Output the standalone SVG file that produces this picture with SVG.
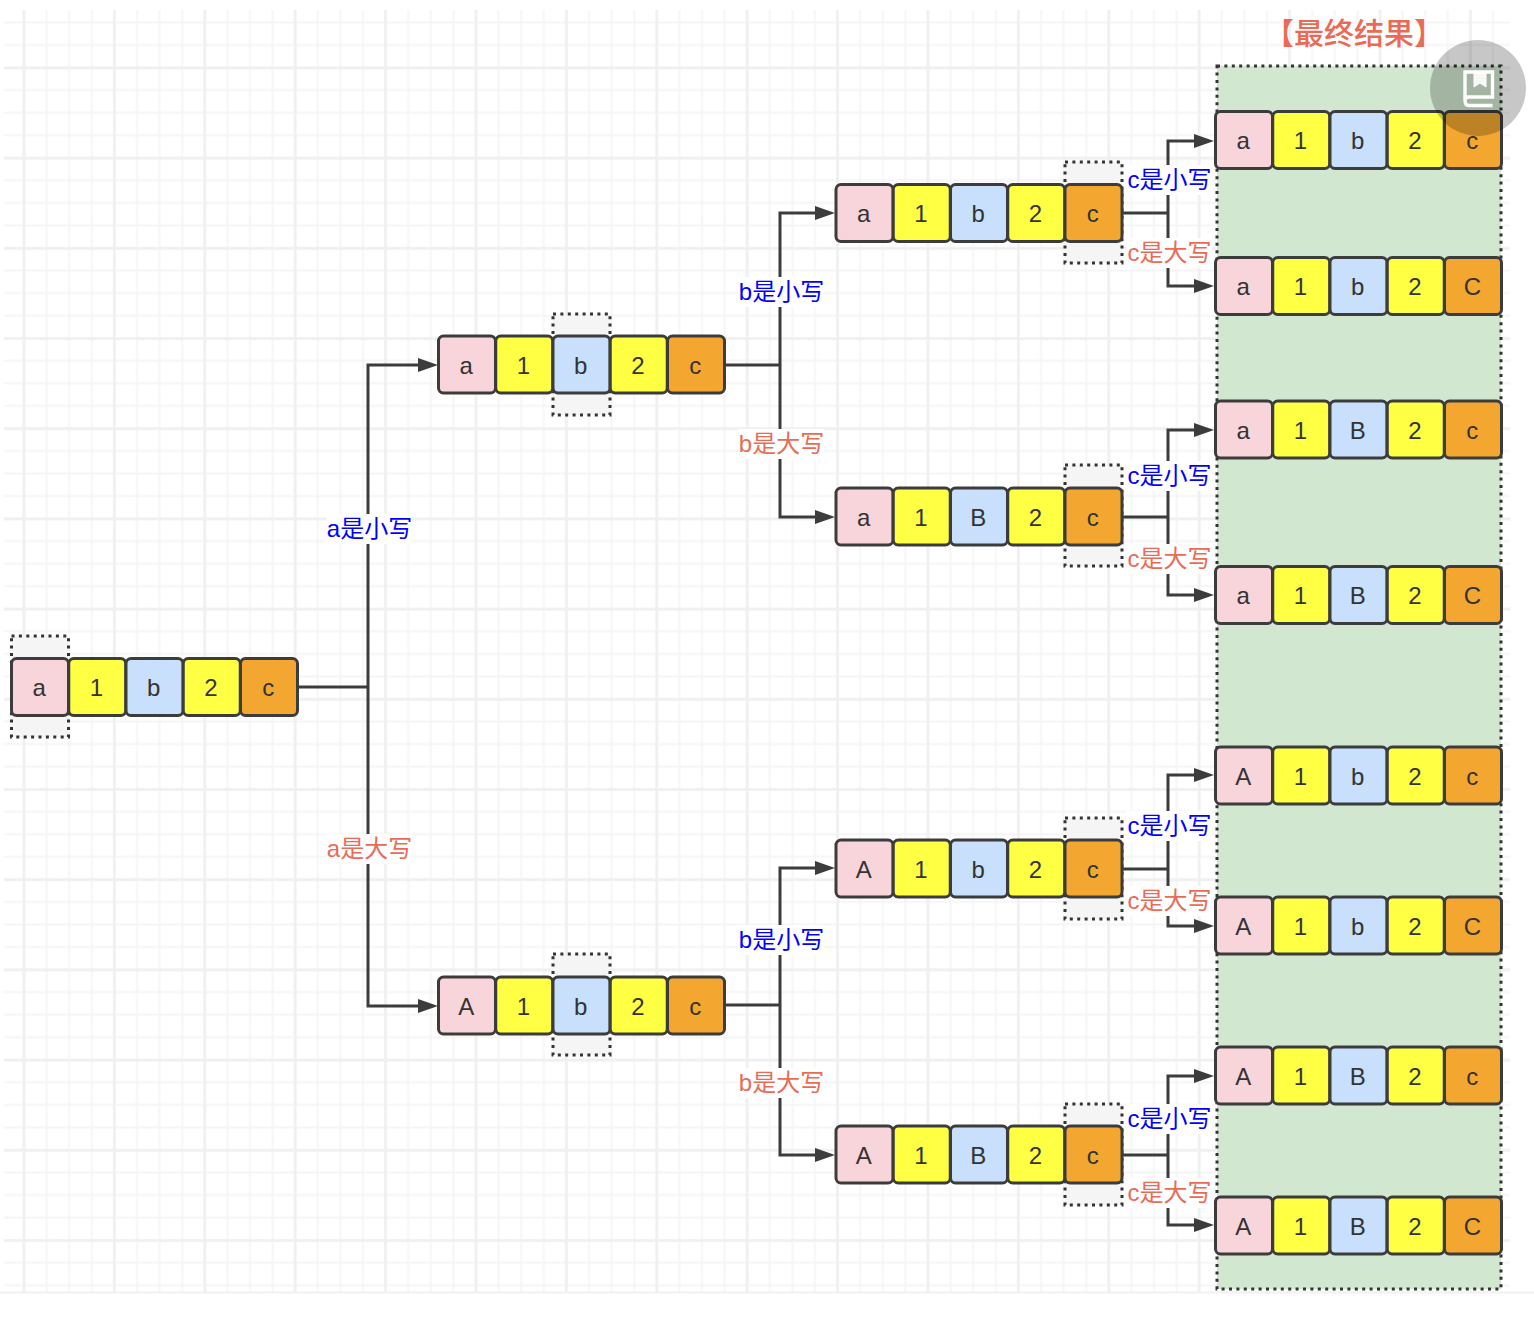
<svg xmlns="http://www.w3.org/2000/svg" width="1534" height="1324" viewBox="0 0 1534 1324">
<style>
.bg{fill:#fff}
.gm{fill:none;stroke:#f5f5f5;stroke-width:2}
.gM{fill:none;stroke:#f0f0f0;stroke-width:2.6}
.dot{fill:#f5f5f5;stroke:#333;stroke-width:3;stroke-dasharray:3 4.4}
.res{fill:#d2e7d0;stroke:#333;stroke-width:3;stroke-dasharray:3 4.4}
.cell{width:57px;height:57px;rx:5px;ry:5px;stroke:#3c3c3c;stroke-width:3}
.p{fill:#f8d5da}.y{fill:#ffff44}.u{fill:#c8e0fb}.o{fill:#f3a730}
.t{font:24px "Liberation Sans","Noto Sans CJK SC",sans-serif;fill:#333;text-anchor:middle}
.line{fill:none;stroke:#3c3c3c;stroke-width:3}
.lb{fill:#fff}
.lab{font:24px "Liberation Sans","Noto Sans CJK SC",sans-serif;text-anchor:middle}
.bl{fill:#0000ff}.rd{fill:#ea6b55}
</style>
<defs>
<marker id="arr" markerUnits="userSpaceOnUse" markerWidth="22" markerHeight="16" refX="10" refY="7" orient="auto"><path d="M0 0L20 7L0 14Z" fill="#3c3c3c"/></marker>
<pattern id="gmin" patternUnits="userSpaceOnUse" x="12.7" y="11.2" width="22.6" height="22.55"><path class="gm" d="M11.3 0V22.55M0 11.3H22.6"/></pattern>
<pattern id="gmaj" patternUnits="userSpaceOnUse" x="-21.2" y="22.9" width="90.4" height="90.2"><path class="gM" d="M45.2 0V90.2M0 45.1H90.4"/></pattern>
</defs>
<rect class="bg" width="1534" height="1324"/>
<g id="grid">
<rect x="4" y="10" width="1506" height="1282" fill="url(#gmin)"/>
<rect x="4" y="10" width="1506" height="1282" fill="url(#gmaj)"/>
<path d="M0 1292.6H1534" stroke="#f1f1f1" stroke-width="2"/>
</g>
<g id="selections">
<rect id="result-box" class="res" x="1217" y="66" width="284" height="1223"/>
<rect class="dot" x="11.5" y="636" width="57" height="101"/>
<rect class="dot" x="553" y="314" width="57" height="101"/>
<rect class="dot" x="553" y="954" width="57" height="101"/>
<rect class="dot" x="1065" y="162" width="57" height="101"/>
<rect class="dot" x="1065" y="465" width="57" height="101"/>
<rect class="dot" x="1065" y="818" width="57" height="101"/>
<rect class="dot" x="1065" y="1104" width="57" height="101"/>
</g>
<g id="connectors">
<path class="line" d="M298 687H368"/>
<path class="line" marker-end="url(#arr)" d="M368 687V365H428"/>
<path class="line" marker-end="url(#arr)" d="M368 687V1006H428"/>
<path class="line" d="M725 365H780"/>
<path class="line" marker-end="url(#arr)" d="M780 365V213H825"/>
<path class="line" marker-end="url(#arr)" d="M780 365V517H825"/>
<path class="line" d="M725 1005H780"/>
<path class="line" marker-end="url(#arr)" d="M780 1005V868H825"/>
<path class="line" marker-end="url(#arr)" d="M780 1005V1155H825"/>
<path class="line" d="M1123 213H1168"/>
<path class="line" marker-end="url(#arr)" d="M1168 213V141H1204"/>
<path class="line" marker-end="url(#arr)" d="M1168 213V286H1204"/>
<path class="line" d="M1123 517H1168"/>
<path class="line" marker-end="url(#arr)" d="M1168 517V430H1204"/>
<path class="line" marker-end="url(#arr)" d="M1168 517V595H1204"/>
<path class="line" d="M1123 869H1168"/>
<path class="line" marker-end="url(#arr)" d="M1168 869V775H1204"/>
<path class="line" marker-end="url(#arr)" d="M1168 869V926H1204"/>
<path class="line" d="M1123 1155H1168"/>
<path class="line" marker-end="url(#arr)" d="M1168 1155V1076H1204"/>
<path class="line" marker-end="url(#arr)" d="M1168 1155V1225H1204"/>
</g>
<g id="labels">
<rect class="lb" x="326" y="514" width="86" height="30"/><text class="lab bl" x="369.5" y="537">a是小写</text>
<rect class="lb" x="326" y="834" width="86" height="30"/><text class="lab rd" x="369.5" y="857">a是大写</text>
<rect class="lb" x="738" y="277" width="86" height="30"/><text class="lab bl" x="781.5" y="300">b是小写</text>
<rect class="lb" x="738" y="429" width="86" height="30"/><text class="lab rd" x="781.5" y="452">b是大写</text>
<rect class="lb" x="738" y="925" width="86" height="30"/><text class="lab bl" x="781.5" y="948">b是小写</text>
<rect class="lb" x="738" y="1068" width="86" height="30"/><text class="lab rd" x="781.5" y="1091">b是大写</text>
<rect class="lb" x="1126" y="165" width="86" height="30"/><text class="lab bl" x="1169.5" y="188">c是小写</text>
<rect class="lb" x="1126" y="238" width="86" height="30"/><text class="lab rd" x="1169.5" y="261">c是大写</text>
<rect class="lb" x="1126" y="461" width="86" height="30"/><text class="lab bl" x="1169.5" y="484">c是小写</text>
<rect class="lb" x="1126" y="544" width="86" height="30"/><text class="lab rd" x="1169.5" y="567">c是大写</text>
<rect class="lb" x="1126" y="811" width="86" height="30"/><text class="lab bl" x="1169.5" y="834">c是小写</text>
<rect class="lb" x="1126" y="886" width="86" height="30"/><text class="lab rd" x="1169.5" y="909">c是大写</text>
<rect class="lb" x="1126" y="1104" width="86" height="30"/><text class="lab bl" x="1169.5" y="1127">c是小写</text>
<rect class="lb" x="1126" y="1178" width="86" height="30"/><text class="lab rd" x="1169.5" y="1201">c是大写</text>
<text id="title" x="1354" y="44" style="font:500 30px 'Noto Sans CJK SC',sans-serif;fill:#ea6b55;text-anchor:middle">【最终结果】</text>
</g>
<g id="n-root" transform="translate(11.5,658.5)">
<rect class="cell p" x="0"/><rect class="cell y" x="57.25"/><rect class="cell u" x="114.5"/><rect class="cell y" x="171.75"/><rect class="cell o" x="229"/>
<text class="t" x="27.8" y="37.5">a</text><text class="t" x="85" y="37.5">1</text><text class="t" x="142.3" y="37.5">b</text><text class="t" x="199.5" y="37.5">2</text><text class="t" x="256.8" y="37.5">c</text>
</g>
<g id="n-a" transform="translate(438.5,336)">
<rect class="cell p" x="0"/><rect class="cell y" x="57.25"/><rect class="cell u" x="114.5"/><rect class="cell y" x="171.75"/><rect class="cell o" x="229"/>
<text class="t" x="27.8" y="37.5">a</text><text class="t" x="85" y="37.5">1</text><text class="t" x="142.3" y="37.5">b</text><text class="t" x="199.5" y="37.5">2</text><text class="t" x="256.8" y="37.5">c</text>
</g>
<g id="n-A" transform="translate(438.5,977)">
<rect class="cell p" x="0"/><rect class="cell y" x="57.25"/><rect class="cell u" x="114.5"/><rect class="cell y" x="171.75"/><rect class="cell o" x="229"/>
<text class="t" x="27.8" y="37.5">A</text><text class="t" x="85" y="37.5">1</text><text class="t" x="142.3" y="37.5">b</text><text class="t" x="199.5" y="37.5">2</text><text class="t" x="256.8" y="37.5">c</text>
</g>
<g id="n-ab" transform="translate(836,184.5)">
<rect class="cell p" x="0"/><rect class="cell y" x="57.25"/><rect class="cell u" x="114.5"/><rect class="cell y" x="171.75"/><rect class="cell o" x="229"/>
<text class="t" x="27.8" y="37.5">a</text><text class="t" x="85" y="37.5">1</text><text class="t" x="142.3" y="37.5">b</text><text class="t" x="199.5" y="37.5">2</text><text class="t" x="256.8" y="37.5">c</text>
</g>
<g id="n-aB" transform="translate(836,488)">
<rect class="cell p" x="0"/><rect class="cell y" x="57.25"/><rect class="cell u" x="114.5"/><rect class="cell y" x="171.75"/><rect class="cell o" x="229"/>
<text class="t" x="27.8" y="37.5">a</text><text class="t" x="85" y="37.5">1</text><text class="t" x="142.3" y="37.5">B</text><text class="t" x="199.5" y="37.5">2</text><text class="t" x="256.8" y="37.5">c</text>
</g>
<g id="n-Ab" transform="translate(836,840)">
<rect class="cell p" x="0"/><rect class="cell y" x="57.25"/><rect class="cell u" x="114.5"/><rect class="cell y" x="171.75"/><rect class="cell o" x="229"/>
<text class="t" x="27.8" y="37.5">A</text><text class="t" x="85" y="37.5">1</text><text class="t" x="142.3" y="37.5">b</text><text class="t" x="199.5" y="37.5">2</text><text class="t" x="256.8" y="37.5">c</text>
</g>
<g id="n-AB" transform="translate(836,1126)">
<rect class="cell p" x="0"/><rect class="cell y" x="57.25"/><rect class="cell u" x="114.5"/><rect class="cell y" x="171.75"/><rect class="cell o" x="229"/>
<text class="t" x="27.8" y="37.5">A</text><text class="t" x="85" y="37.5">1</text><text class="t" x="142.3" y="37.5">B</text><text class="t" x="199.5" y="37.5">2</text><text class="t" x="256.8" y="37.5">c</text>
</g>
<g id="r-1" transform="translate(1215.5,111.5)">
<rect class="cell p" x="0"/><rect class="cell y" x="57.25"/><rect class="cell u" x="114.5"/><rect class="cell y" x="171.75"/><rect class="cell o" x="229"/>
<text class="t" x="27.8" y="37.5">a</text><text class="t" x="85" y="37.5">1</text><text class="t" x="142.3" y="37.5">b</text><text class="t" x="199.5" y="37.5">2</text><text class="t" x="256.8" y="37.5">c</text>
</g>
<g id="r-2" transform="translate(1215.5,257.5)">
<rect class="cell p" x="0"/><rect class="cell y" x="57.25"/><rect class="cell u" x="114.5"/><rect class="cell y" x="171.75"/><rect class="cell o" x="229"/>
<text class="t" x="27.8" y="37.5">a</text><text class="t" x="85" y="37.5">1</text><text class="t" x="142.3" y="37.5">b</text><text class="t" x="199.5" y="37.5">2</text><text class="t" x="256.8" y="37.5">C</text>
</g>
<g id="r-3" transform="translate(1215.5,401)">
<rect class="cell p" x="0"/><rect class="cell y" x="57.25"/><rect class="cell u" x="114.5"/><rect class="cell y" x="171.75"/><rect class="cell o" x="229"/>
<text class="t" x="27.8" y="37.5">a</text><text class="t" x="85" y="37.5">1</text><text class="t" x="142.3" y="37.5">B</text><text class="t" x="199.5" y="37.5">2</text><text class="t" x="256.8" y="37.5">c</text>
</g>
<g id="r-4" transform="translate(1215.5,566.5)">
<rect class="cell p" x="0"/><rect class="cell y" x="57.25"/><rect class="cell u" x="114.5"/><rect class="cell y" x="171.75"/><rect class="cell o" x="229"/>
<text class="t" x="27.8" y="37.5">a</text><text class="t" x="85" y="37.5">1</text><text class="t" x="142.3" y="37.5">B</text><text class="t" x="199.5" y="37.5">2</text><text class="t" x="256.8" y="37.5">C</text>
</g>
<g id="r-5" transform="translate(1215.5,747)">
<rect class="cell p" x="0"/><rect class="cell y" x="57.25"/><rect class="cell u" x="114.5"/><rect class="cell y" x="171.75"/><rect class="cell o" x="229"/>
<text class="t" x="27.8" y="37.5">A</text><text class="t" x="85" y="37.5">1</text><text class="t" x="142.3" y="37.5">b</text><text class="t" x="199.5" y="37.5">2</text><text class="t" x="256.8" y="37.5">c</text>
</g>
<g id="r-6" transform="translate(1215.5,897)">
<rect class="cell p" x="0"/><rect class="cell y" x="57.25"/><rect class="cell u" x="114.5"/><rect class="cell y" x="171.75"/><rect class="cell o" x="229"/>
<text class="t" x="27.8" y="37.5">A</text><text class="t" x="85" y="37.5">1</text><text class="t" x="142.3" y="37.5">b</text><text class="t" x="199.5" y="37.5">2</text><text class="t" x="256.8" y="37.5">C</text>
</g>
<g id="r-7" transform="translate(1215.5,1047)">
<rect class="cell p" x="0"/><rect class="cell y" x="57.25"/><rect class="cell u" x="114.5"/><rect class="cell y" x="171.75"/><rect class="cell o" x="229"/>
<text class="t" x="27.8" y="37.5">A</text><text class="t" x="85" y="37.5">1</text><text class="t" x="142.3" y="37.5">B</text><text class="t" x="199.5" y="37.5">2</text><text class="t" x="256.8" y="37.5">c</text>
</g>
<g id="r-8" transform="translate(1215.5,1197)">
<rect class="cell p" x="0"/><rect class="cell y" x="57.25"/><rect class="cell u" x="114.5"/><rect class="cell y" x="171.75"/><rect class="cell o" x="229"/>
<text class="t" x="27.8" y="37.5">A</text><text class="t" x="85" y="37.5">1</text><text class="t" x="142.3" y="37.5">B</text><text class="t" x="199.5" y="37.5">2</text><text class="t" x="256.8" y="37.5">C</text>
</g>
<g id="overlay">
<circle cx="1478" cy="88" r="48" fill="#000" fill-opacity=".22"/>
<path d="M1465 100V72H1492.5V97H1468.5Q1465 97 1465 100.5Q1465 105.5 1469 105.5H1492.5" fill="none" stroke="#fff" stroke-width="3.4"/>
<path d="M1474 72V87L1480 83L1486 87V72" fill="#fff" fill-opacity=".9" stroke="#fff" stroke-width="1"/>
</g>
</svg>
